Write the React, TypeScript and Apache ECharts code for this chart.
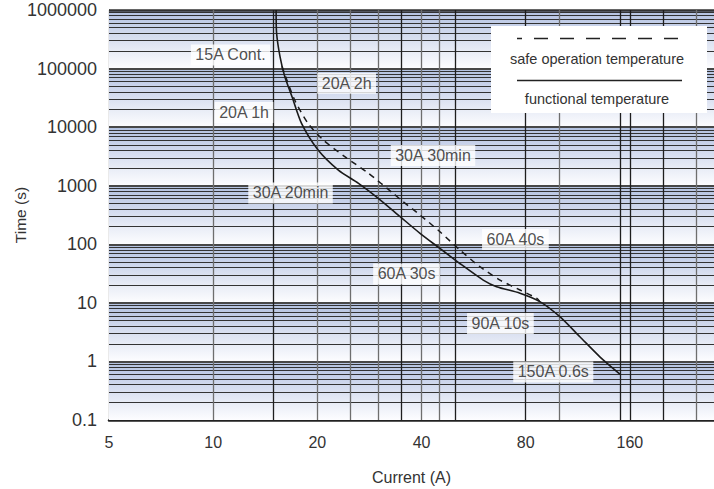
import React, { useEffect, useRef } from "react";
import * as echarts from "echarts";

// ---------- data ----------
const xTickLabels = ["5", "10", "20", "40", "80", "160"];
const yTickLabels = ["0.1", "1", "10", "100", "1000", "10000", "100000", "1000000"];
const X_MIN = 5;
const X_MAX = 280;
const Y_MIN = 0.1;
const Y_MAX = 1000000;

const verticalGridCurrents = [10, 15, 20, 25, 30, 35, 40, 45, 50, 80, 100, 150, 160, 200, 250];

const functionalCurrent = [15.2, 15.25, 15.6, 16.1, 16.9, 18.0, 20.1, 23.0, 26.3, 30.0, 34.7, 39.6, 45.2, 51.6, 60.3, 65.9, 77.0, 87.9, 100.4, 114.7, 131, 150];
const functionalTime = [1000000, 400000, 160000, 73000, 33000, 11600, 4070, 1850, 1100, 610, 296, 154, 85, 47, 24.5, 18.9, 14.6, 10.5, 5.8, 2.64, 1.2, 0.6];

const safeCurrent = [15.8, 17.2, 18.8, 20.8, 24.0, 28.1, 33.1, 35.4, 39.6, 45.2, 51.6, 59.0, 67.4, 77.0, 86.0, 87.9];
const safeTime = [110000, 29000, 11600, 6040, 3130, 1630, 742, 533, 316, 164, 80, 41.4, 24.5, 16.6, 12.0, 10.5];

const annotationTexts = ["15A Cont.", "20A 2h", "20A 1h", "30A 30min", "30A 20min", "60A 30s", "60A 40s", "90A 10s", "150A 0.6s"];
const annotationCurrent = [11.22, 24.31, 12.28, 43.17, 16.73, 36.2, 74.7, 67.6, 96.1];
const annotationTime = [170500, 56000, 17800, 3281, 751, 31.1, 120.7, 4.44, 0.66];

const legendTexts = ["safe operation temperature", "functional temperature"];

// ---------- styles ----------
const FONT = "'Liberation Sans', Arial, Helvetica, sans-serif";
const darkVertical = new Set([15, 35, 50, 80, 150, 160, 200]);

const xv = (c: number) => Math.log2(c / X_MIN);

export default function App() {
  const ref = useRef<HTMLDivElement>(null);

  useEffect(() => {
    document.body.style.margin = "0";
    if (!ref.current) return;
    const chart = echarts.init(ref.current, undefined, { renderer: "svg" });

    const decadeExps: number[] = [];
    for (let k = Math.round(Math.log10(Y_MIN)); k < Math.round(Math.log10(Y_MAX)); k++) decadeExps.push(k);

    const bandAreas = decadeExps.map((k) => [
      {
        yAxis: Math.pow(10, k + 1),
        itemStyle: {
          color: new echarts.graphic.LinearGradient(0, 0, 0, 1, [
            { offset: 0, color: "#b2c1e0" },
            { offset: 0.35, color: "#cdd6ec" },
            { offset: 0.7, color: "#e8ecf6" },
            { offset: 1, color: "#fdfdff" },
          ]),
          opacity: 1,
        },
      },
      { yAxis: Math.pow(10, k) },
    ]);

    const hLines: any[] = [];
    decadeExps.forEach((k) => {
      for (let m = 2; m <= 9; m++) {
        hLines.push({ yAxis: m * Math.pow(10, k), lineStyle: { color: "#333", width: 1, type: "solid" } });
      }
      if (k > Math.round(Math.log10(Y_MIN))) {
        hLines.push({ yAxis: Math.pow(10, k), lineStyle: { color: "#484848", width: 2.2, type: "solid" } });
      }
    });
    hLines.push({ yAxis: Y_MAX, lineStyle: { color: "#333", width: 2.5, type: "solid" } });

    const vLines = verticalGridCurrents.map((c) => ({
      xAxis: xv(c),
      lineStyle: { color: darkVertical.has(c) ? "#1e1e1e" : "#6e6e6e", width: 1.3, type: "solid" },
    }));

    const option: any = {
      animation: false,
      textStyle: { fontFamily: FONT },
      grid: { left: 109, right: 0, top: 10, bottom: 69, containLabel: false, outerBoundsMode: "none" },
      xAxis: {
        type: "value",
        min: 0,
        max: xv(X_MAX),
        interval: 1,
        name: "Current (A)",
        nameLocation: "middle",
        nameGap: 49,
        nameMoveOverlap: false,
        nameTextStyle: { fontSize: 16, color: "#333", fontFamily: FONT },
        axisLine: { show: true, lineStyle: { color: "#222", width: 2.5 } },
        axisTick: { show: false },
        splitLine: { show: false },
        axisLabel: {
          fontSize: 16,
          color: "#333",
          margin: 14,
          showMaxLabel: false,
          formatter: (v: number) => {
            const i = Math.round(v);
            if (Math.abs(v - i) > 1e-6) return "";
            return xTickLabels[i] ?? "";
          },
        },
      },
      yAxis: {
        type: "log",
        logBase: 10,
        min: Y_MIN,
        max: Y_MAX,
        name: "Time (s)",
        nameLocation: "middle",
        nameGap: 81,
        nameRotate: 90,
        nameMoveOverlap: false,
        nameTextStyle: { fontSize: 15.5, color: "#333", fontFamily: FONT },
        axisLine: { show: true, lineStyle: { color: "#333", width: 1.2 } },
        axisTick: { show: false },
        splitLine: { show: false },
        axisLabel: {
          fontSize: 18,
          color: "#333",
          margin: 12,
          formatter: (v: number) => {
            const i = Math.round(Math.log10(v)) - Math.round(Math.log10(Y_MIN));
            return yTickLabels[i] ?? "";
          },
        },
      },
      series: [
        {
          type: "line",
          data: [],
          z: 1,
          silent: true,
          markArea: { silent: true, data: bandAreas },
          markLine: {
            silent: true,
            symbol: ["none", "none"],
            label: { show: false },
            data: [...hLines, ...vLines],
          },
        },
        {
          name: "functional temperature",
          type: "line",
          z: 10,
          smooth: 0.25,
          showSymbol: false,
          symbol: "none",
          lineStyle: { color: "#1a1a1a", width: 1.6, type: "solid" },
          data: functionalCurrent.map((c, i) => [xv(c), functionalTime[i]]),
        },
        {
          name: "safe operation temperature",
          type: "line",
          z: 10,
          smooth: 0.25,
          showSymbol: false,
          symbol: "none",
          lineStyle: { color: "#1a1a1a", width: 1.5, type: [6, 5] },
          data: safeCurrent.map((c, i) => [xv(c), safeTime[i]]),
        },
        {
          type: "scatter",
          z: 12,
          silent: true,
          symbolSize: 1,
          itemStyle: { color: "rgba(0,0,0,0)" },
          label: {
            show: true,
            position: "inside",
            formatter: "{b}",
            backgroundColor: "#ffffff",
            padding: [3, 4, 2, 4],
            fontSize: 16,
            color: "#222",
            fontFamily: FONT,
          },
          data: annotationTexts.map((t, i) => ({ name: t, value: [xv(annotationCurrent[i]), annotationTime[i]] })),
        },
      ],
      graphic: {
        elements: [
          { type: "rect", z: 100, shape: { x: 491, y: 26, width: 216, height: 87 }, style: { fill: "#ffffff" } },
          {
            type: "line",
            z: 101,
            shape: { x1: 517, y1: 38.5, x2: 682, y2: 38.5 },
            style: { stroke: "#222", lineWidth: 1.3, lineDash: [14, 12], lineDashOffset: 9 },
          },
          {
            type: "text",
            z: 101,
            x: 597,
            y: 59,
            style: { text: legendTexts[0], fill: "#333", fontSize: 14.5, fontFamily: FONT, align: "center", verticalAlign: "middle" },
          },
          {
            type: "line",
            z: 101,
            shape: { x1: 517, y1: 80.5, x2: 682, y2: 80.5 },
            style: { stroke: "#222", lineWidth: 1.3 },
          },
          {
            type: "text",
            z: 101,
            x: 597,
            y: 99,
            style: { text: legendTexts[1], fill: "#333", fontSize: 14.5, fontFamily: FONT, align: "center", verticalAlign: "middle" },
          },
        ],
      },
    };

    chart.setOption(option);
    return () => chart.dispose();
  }, []);

  return <div ref={ref} style={{ position: "fixed", left: 0, top: 0, width: 714, height: 489, background: "#fff" }} />;
}
